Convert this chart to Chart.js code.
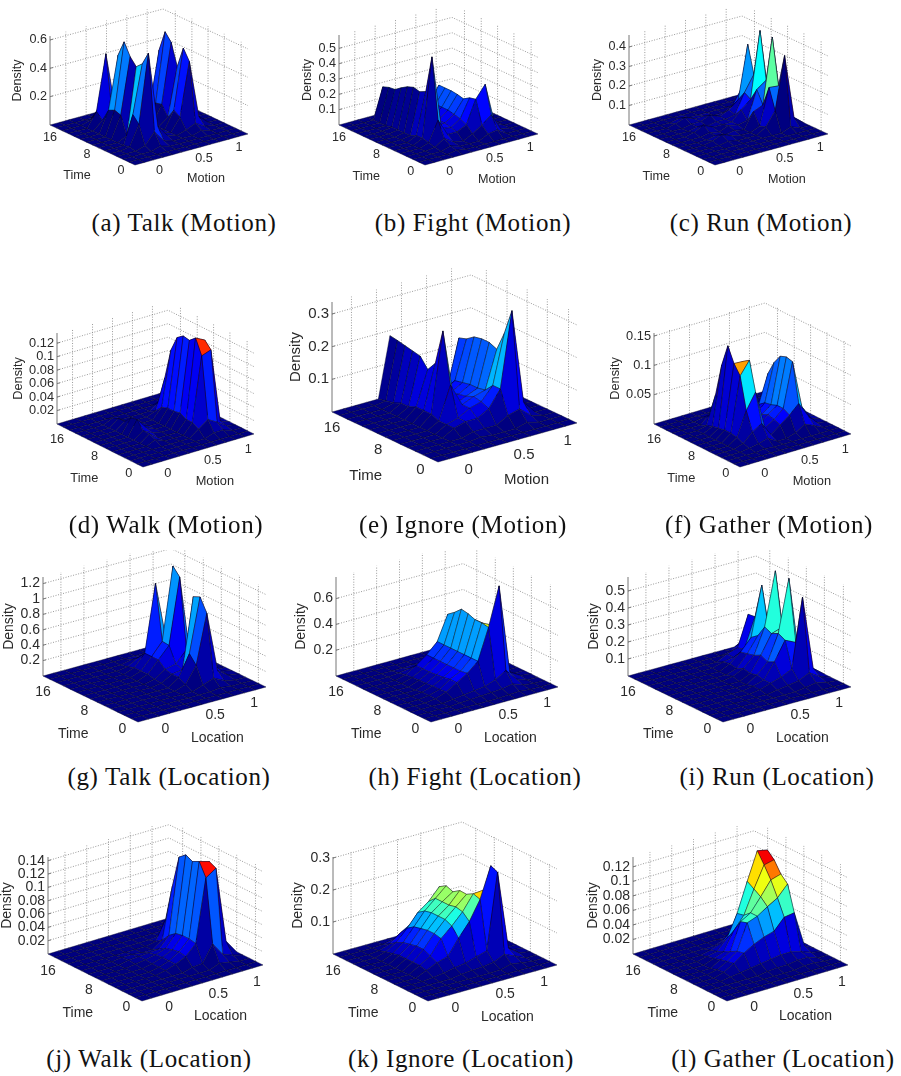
<!DOCTYPE html>
<html>
<head>
<meta charset="utf-8">
<title>Density plots</title>
<script src="https://cdn.jsdelivr.net/npm/chart.js@4/dist/chart.umd.js"></script>
<style>
  html, body { margin: 0; background: #fff; }
  #page { position: relative; width: 901px; height: 1076px; overflow: hidden; }
  canvas { position: absolute; filter: blur(0.35px); }
  .cap { position: absolute; transform: translate(-50%, -50%); white-space: nowrap; color: #111;
         font-family: "Liberation Serif", serif; font-size: 25px; letter-spacing: 0.65px; }
</style>
</head>
<body>
<div id="page"></div>
<script>
// rows are time steps (front to back), columns are motion/location bins (left to right)
const _ = [0,0,0,0,0,0,0,0,0,0,0,0,0];

const talkMotion = [_,_,
  [0,0,0,0,.02,0,0,0,0,0,0,0,0],
  [0,0,0,.02,.1,.02,0,0,0,.02,0,0,0],
  [0,0,.01,.15,.635,.1,.02,0,.02,.05,.01,0,0],
  [0,0,0,.2,.54,.12,.02,0,.09,.465,.06,0,0],
  [0,0,0,.03,.5,.1,.02,0,.12,.54,.08,0,0],
  [0,0,0,.155,.55,.1,0,0,.05,.39,.05,0,0],
  [0,0,0,.17,.635,.12,0,0,.12,.54,.08,0,0],
  [0,0,0,.15,.52,.1,0,0,.11,.595,.07,0,0],
  [0,0,0,.06,.1,.03,0,0,.06,.445,.05,0,0],
  [0,0,0,.1,.49,.08,0,0,.02,.06,0,0,0],
  [0,0,0,.02,.1,.02,0,0,0,0,0,0,0],
  _,_];

const fightMotion = [_,
  [0,0,0,0,.01,0,0,0,0,0,0,0,0],
  [0,0,0,0,.02,0,0,0,.03,.04,0,0,0],
  [0,0,0,.01,.05,.01,0,.03,.07,.12,.01,0,0],
  [0,0,0,.02,.15,.04,.04,.07,.22,.3,.03,0,0],
  [0,0,0,.03,.545,.06,.05,.09,.21,.08,.01,0,0],
  [0,0,0,.03,.3,.05,.06,.1,.185,.03,0,0,0],
  [0,0,0,.01,.28,.04,.06,.11,.195,.02,0,0,0],
  [0,0,0,.01,.29,.03,.06,.11,.2,.02,0,0,0],
  [0,0,0,.01,.275,.03,.05,.11,.2,.02,0,0,0],
  [0,0,0,.01,.25,.02,.05,.1,.2,.01,0,0,0],
  [0,0,0,0,.22,.01,.03,.06,.08,.01,0,0,0],
  [0,0,0,0,.215,.01,0,0,0,0,0,0,0],
  [0,0,0,0,.2,.01,0,0,0,0,0,0,0],
  _];

const runMotion = [_,_,_,
  [0,0,0,0,0,0,0,0,0,0,.02,0,0],
  [0,0,0,0,.01,0,0,0,.03,.1,.37,.04,0],
  [0,0,0,.01,.03,.01,0,0,.02,.205,.2,.02,0],
  [0,0,0,0,.01,0,.01,0,.08,.1,.436,.05,0],
  [0,0,0,0,.01,0,.02,.01,.02,.165,.2,.02,0],
  [0,0,0,.01,.035,.01,.01,.01,.06,.1,.44,.05,0],
  [0,0,0,0,.01,0,.01,.01,.02,.12,.2,.01,0],
  [0,0,0,0,.01,.01,.03,.01,.03,.07,.34,.03,0],
  [0,0,0,.01,.03,.01,.01,0,0,.02,.1,0,0],
  [0,0,0,0,.01,0,0,0,0,0,0,0,0],
  _,_];

const walkMotion = [_,_,
  [0,0,0,0,0,0,0,0,0,.005,.005,0,0],
  [0,0,0,0,0,0,0,0,.01,.02,.012,.003,0],
  [0,0,0,0,.006,0,0,0,.015,.11,.115,.005,0],
  [0,0,0,0,.01,0,0,0,.015,.132,.125,.005,0],
  [0,0,0,0,.01,.003,0,0,.02,.124,.105,.005,0],
  [0,0,0,0,.022,.006,0,0,.018,.126,.05,0,0],
  [0,0,0,0,.02,.004,0,0,.018,.119,.03,0,0],
  [0,0,0,0,.01,0,0,0,.015,.096,.02,0,0],
  [0,0,0,0,.01,0,0,0,.005,.05,.01,0,0],
  [0,0,0,0,.006,0,0,0,0,.01,0,0,0],
  _,_,_];

const ignoreMotion = [_,_,
  [0,0,0,0,0,.005,0,0,0,.01,0,0,0],
  [0,0,0,0,0,.01,.01,.01,.03,.04,.01,0,0],
  [0,0,0,0,.02,.03,.03,.05,.1,.33,.04,0,0],
  [0,0,0,0,.02,.03,.05,.06,.1,.25,.04,0,0],
  [0,0,0,0,.02,.12,.05,.065,.075,.19,.03,0,0],
  [0,0,0,0,.03,.275,.04,.055,.07,.2,.03,0,0],
  [0,0,0,0,.03,.165,.03,.05,.07,.2,.02,0,0],
  [0,0,0,0,.03,.135,.025,.045,.065,.195,.02,0,0],
  [0,0,0,0,.02,.165,.02,.04,.06,.178,.01,0,0],
  [0,0,0,0,.02,.17,.015,.02,.03,.17,.005,0,0],
  [0,0,0,0,.01,.175,.01,0,0,.05,0,0,0],
  [0,0,0,0,.005,.18,.01,0,0,0,0,0,0],
  [0,0,0,0,0,.184,.01,0,0,0,0,0,0]];

const gatherMotion = [_,_,
  [0,0,0,0,.002,0,0,0,0,0,0,0,0],
  [0,0,0,.002,.005,.01,0,0,.005,.015,.008,0,0],
  [0,0,0,.005,.02,.03,.006,.018,.03,.045,.02,.003,0],
  [0,0,0,.01,.051,.078,.012,.022,.036,.111,.03,.005,0],
  [0,0,0,.012,.105,.127,.012,.025,.036,.114,.05,.005,0],
  [0,0,0,.012,.121,.12,.012,.02,.032,.11,.05,0,0],
  [0,0,0,.01,.146,.08,.008,.015,.03,.094,.04,0,0],
  [0,0,0,.008,.108,.04,.005,.008,.022,.07,.02,0,0],
  [0,0,0,.004,.052,.01,0,0,.005,.02,0,0,0],
  [0,0,0,0,.013,0,0,0,0,0,0,0,0],
  [0,0,0,0,.003,0,0,0,0,0,0,0,0],
  _,_];

const talkLocation = [_,_,
  [0,0,0,0,0,0,0,0,0,.02,0,0,0],
  [0,0,0,0,0,0,0,0,.05,.1,.03,0,0],
  [0,0,0,0,0,0,0,.05,.26,.9,.12,.02,0],
  [0,0,0,0,0,0,0,.1,.37,1.07,.2,.03,0],
  [0,0,0,0,0,0,.02,.1,.12,1.03,.15,0,0],
  [0,0,0,0,0,0,.03,.12,.15,.3,.05,0,0],
  [0,0,0,0,0,0,.05,.2,.35,1.2,.1,0,0],
  [0,0,0,0,0,0,.05,.2,.36,1.3,.12,0,0],
  [0,0,0,0,0,0,.05,.2,1.07,.3,.04,0,0],
  [0,0,0,0,0,0,.02,.1,.15,.03,0,0,0],
  [0,0,0,0,0,0,0,.03,.03,0,0,0,0],
  _,_];

const fightLocation = [_,
  [0,0,0,0,0,0,0,0,.005,.01,0,0,0],
  [0,0,0,0,.005,.01,.015,.02,.025,.04,.01,0,0],
  [0,0,0,0,.01,.02,.03,.04,.07,.12,.03,0,0],
  [0,0,0,.01,.04,.09,.14,.21,.45,.75,.06,.01,0],
  [0,0,0,.01,.035,.09,.13,.21,.46,.42,.04,0,0],
  [0,0,0,.01,.035,.08,.13,.21,.46,.4,.03,0,0],
  [0,0,0,0,.03,.075,.13,.21,.48,.25,.02,0,0],
  [0,0,0,0,.03,.07,.13,.21,.49,.15,0,0,0],
  [0,0,0,0,.025,.07,.13,.21,.44,.1,0,0,0],
  [0,0,0,0,.02,.07,.13,.21,.4,.06,0,0,0],
  [0,0,0,0,.01,.02,.03,.03,.05,.01,0,0,0],
  [0,0,0,0,0,0,.005,0,.01,0,0,0,0],
  _,_];

const runLocation = [_,_,
  [0,0,0,0,0,0,0,0,0,.01,.02,.005,0],
  [0,0,0,0,0,0,0,.01,.02,.03,.06,.02,0],
  [0,0,0,0,0,0,.01,.03,.05,.08,.486,.05,0],
  [0,0,0,0,0,0,.01,.03,.12,.23,.2,.03,0],
  [0,0,0,0,0,0,0,.04,.1,.25,.557,.05,0],
  [0,0,0,0,0,0,0,.03,.12,.23,.25,.03,0],
  [0,0,0,0,0,0,.01,.04,.1,.25,.563,.04,0],
  [0,0,0,0,0,0,0,.02,.09,.18,.2,.02,0],
  [0,0,0,0,0,0,0,.03,.08,.15,.44,.03,0],
  [0,0,0,0,0,0,0,.02,.03,.06,.235,.02,0],
  [0,0,0,0,0,0,0,0,.03,.05,.23,.02,0],
  [0,0,0,0,0,0,0,0,0,.01,.05,0,0],
  _];

const walkLocation = [_,_,
  [0,0,0,0,0,0,0,0,0,.006,.003,0,0],
  [0,0,0,0,0,0,0,.004,.005,.03,.01,.004,0],
  [0,0,0,0,0,.003,.008,.015,.03,.124,.134,.02,0],
  [0,0,0,0,0,.003,.008,.017,.032,.1435,.139,.02,0],
  [0,0,0,0,0,.003,.008,.015,.032,.1385,.1,.01,0],
  [0,0,0,0,.002,.004,.007,.012,.03,.1435,.05,0,0],
  [0,0,0,0,.003,.004,.005,.006,.022,.135,.02,0,0],
  [0,0,0,0,.002,.002,0,0,.01,.086,.01,0,0],
  [0,0,0,0,0,0,0,0,.003,.031,0,0,0],
  [0,0,0,0,0,0,0,0,0,.002,0,0,0],
  _,_,_];

const ignoreLocation = [_,_,
  [0,0,0,0,0,0,0,0,.002,.01,.005,0,0],
  [0,0,0,0,0,.005,.008,.01,.015,.03,.015,0,0],
  [0,0,0,.003,.008,.015,.02,.03,.04,.276,.03,.005,0],
  [0,0,0,.015,.03,.04,.0875,.13,.19,.286,.03,.005,0],
  [0,0,0,.02,.04,.085,.115,.15,.197,.2,.02,0,0],
  [0,0,0,.02,.05,.09,.125,.155,.185,.12,.01,0,0],
  [0,0,0,.02,.05,.09,.125,.15,.186,.08,0,0,0],
  [0,0,0,.02,.045,.085,.125,.15,.172,.05,0,0,0],
  [0,0,0,.015,.04,.08,.12,.15,.18,.04,0,0,0],
  [0,0,0,.01,.03,.065,.105,.13,.167,.02,0,0,0],
  [0,0,0,.003,.015,.04,.06,.08,.1,.01,0,0,0],
  [0,0,0,0,.003,.01,.015,.02,.02,0,0,0,0],
  _];

const gatherLocation = [_,_,
  [0,0,0,0,0,0,0,0,0,.002,.002,0,0],
  [0,0,0,0,0,0,.002,.003,.003,.005,.005,0,0],
  [0,0,0,.002,.004,.006,.008,.01,.012,.012,.008,.003,0],
  [0,0,0,.004,.012,.022,.03,.036,.04,.055,.057,.008,0],
  [0,0,0,.003,.01,.02,.055,.06,.069,.077,.092,.01,0],
  [0,0,0,0,.008,.015,.052,.06,.078,.097,.101,.012,0],
  [0,0,0,0,.005,.01,.035,.052,.084,.113,.116,.012,0],
  [0,0,0,0,.003,.006,.02,.05,.09,.128,.125,.01,0],
  [0,0,0,0,0,.003,.008,.02,.03,.05,.05,.005,0],
  [0,0,0,0,0,0,0,.005,.008,.01,.01,0,0],
  _,_,_];

const timeTicks = ['0', '8', '16'];
const axisTicks = ['0', '0.5', '1'];

// wall grid fractions, density ticks and where each panel sits on the page
const leftWallGrid = [.14, .32, .5, .68, .86];
const rightWallGrid = [.145, .34, .53, .72, .92];

const panels = [
  {caption: '(a) Talk (Motion)', values: talkMotion, axis: 'Motion', zTicks: [.2,.4,.6], L:[50,125], F:[135,165], R:[248,134], zScale:141.7, topY:36, font:12.6, densityX:18, box:[0,0,300,205], capX:184, capY:223},
  {caption: '(b) Fight (Motion)', values: fightMotion, axis: 'Motion', zTicks: [.1,.2,.3,.4,.5], L:[339,125], F:[425,165], R:[538,134], zScale:153.3, topY:35, font:12.6, densityX:308, box:[300,0,285,205], capX:473, capY:223},
  {caption: '(c) Run (Motion)', values: runMotion, axis: 'Motion', zTicks: [.1,.2,.3,.4], L:[629,125], F:[715,165], R:[828,134], zScale:195, topY:35, font:12.6, densityX:598, box:[585,0,316,205], capX:761, capY:223},
  {caption: '(d) Walk (Motion)', values: walkMotion, axis: 'Motion', zTicks: [.02,.04,.06,.08,.1,.12], L:[57,424], F:[143,467], R:[254,434], zScale:673.3, topY:333, font:12.8, densityX:18, box:[0,270,285,240], capX:166, capY:525},
  {caption: '(e) Ignore (Motion)', values: ignoreMotion, axis: 'Motion', zTicks: [.1,.2,.3], L:[332,412], F:[438,462], R:[577,423], zScale:326.7, topY:302, font:15, densityX:296, box:[285,265,315,240], capX:463, capY:525},
  {caption: '(f) Gather (Motion)', values: gatherMotion, axis: 'Motion', zTicks: [.05,.1,.15], L:[654,424], F:[740,467], R:[851,434], zScale:586.7, topY:333, font:12.8, densityX:615, box:[600,270,301,240], capX:769, capY:525},
  {caption: '(g) Talk (Location)', values: talkLocation, axis: 'Location', zTicks: [.2,.4,.6,.8,1,1.2], L:[43,676], F:[138,722], R:[266,687], zScale:77, topY:577, font:14, densityX:9, box:[0,550,285,205], capX:169, capY:777},
  {caption: '(h) Fight (Location)', values: fightLocation, axis: 'Location', zTicks: [.2,.4,.6], L:[336,676], F:[431,722], R:[558,687], zScale:129, topY:577, font:14, densityX:301, box:[285,550,295,205], capX:475, capY:777},
  {caption: '(i) Run (Location)', values: runLocation, axis: 'Location', zTicks: [.1,.2,.3,.4,.5], L:[628,676], F:[723,722], R:[851,687], zScale:170, topY:577, font:14, densityX:594, box:[580,550,321,205], capX:777, capY:777},
  {caption: '(j) Walk (Location)', values: walkLocation, axis: 'Location', zTicks: [.02,.04,.06,.08,.1,.12,.14], L:[48,954], F:[142,1001], R:[263,965], zScale:666.7, topY:857, font:14, densityX:7, box:[0,810,285,230], capX:149, capY:1059},
  {caption: '(k) Ignore (Location)', values: ignoreLocation, axis: 'Location', zTicks: [.1,.2,.3], L:[333,954], F:[428,1001], R:[557,965], zScale:320, topY:857, font:14, densityX:298, box:[285,810,295,230], capX:461, capY:1059},
  {caption: '(l) Gather (Location)', values: gatherLocation, axis: 'Location', zTicks: [.02,.04,.06,.08,.1,.12], L:[633,954], F:[727,1001], R:[848,965], zScale:726.7, topY:857, font:14, densityX:593, box:[580,810,321,230], capX:783, capY:1059},
];

// matlab jet colormap
function jet(v) {
  const ramp = c => Math.round(255 * Math.max(0, Math.min(1, 1.5 - Math.abs(4 * v - c))));
  return `rgb(${ramp(3)},${ramp(2)},${ramp(1)})`;
}

function lineSet(points, color, dash, width) {
  return {data: points, showLine: true, fill: false, borderColor: color, borderDash: dash, borderWidth: width, pointRadius: 0};
}

function buildDatasets(p) {
  const rows = p.values.length, cols = p.values[0].length;
  const zMax = Math.max(...p.values.flat());
  const B = [p.L[0] + p.R[0] - p.F[0], p.L[1] + p.R[1] - p.F[1]];
  const project = (i, j) => {
    const a = i / (rows - 1), b = j / (cols - 1), z = p.values[i][j];
    return {
      x: p.F[0] + a * (p.L[0] - p.F[0]) + b * (p.R[0] - p.F[0]),
      y: p.F[1] + a * (p.L[1] - p.F[1]) + b * (p.R[1] - p.F[1]) - z * p.zScale,
    };
  };

  // first dataset is painted last, so the nearest cell goes first
  const sets = [];
  for (let i = 0; i < rows - 1; i++) {
    for (let j = 0; j < cols - 1; j++) {
      const first = project(i, j);
      sets.push({
        data: [first, project(i, j + 1), project(i + 1, j + 1), project(i + 1, j), first],
        showLine: true, fill: 'shape', backgroundColor: jet(p.values[i][j] / zMax),
        borderColor: 'rgba(0,0,30,0.8)', borderWidth: 0.5, pointRadius: 0,
      });
    }
  }

  const grid = '#808080', gridDash = [1, 1.6];
  const wallHeight = p.L[1] - p.topY;
  p.zTicks.forEach(z => {
    const up = z * p.zScale;
    sets.push(lineSet([{x: p.L[0], y: p.L[1] - up}, {x: B[0], y: B[1] - up}, {x: p.R[0], y: p.R[1] - up}], grid, gridDash, 0.8));
    sets.push(lineSet([{x: p.L[0], y: p.L[1] - up}, {x: p.L[0] + 3, y: p.L[1] - up - 0.8}], '#555', [], 0.8));
  });
  leftWallGrid.forEach(f => {
    const x = p.L[0] + f * (B[0] - p.L[0]), y = p.L[1] + f * (B[1] - p.L[1]);
    sets.push(lineSet([{x, y}, {x, y: y - wallHeight}], grid, gridDash, 0.8));
  });
  rightWallGrid.forEach(f => {
    const x = B[0] + f * (p.R[0] - B[0]), y = B[1] + f * (p.R[1] - B[1]);
    sets.push(lineSet([{x, y}, {x, y: y - wallHeight}], grid, gridDash, 0.8));
  });
  sets.push(lineSet([{x: p.L[0], y: p.L[1]}, {x: p.L[0], y: p.topY}], '#777', [], 1));
  return sets;
}

// tick and axis names follow the tilted floor, so they are placed by hand through the scales
const axisText = {
  id: 'axisText',
  afterDraw(chart, args, opts) {
    const p = opts.panel, ctx = chart.ctx, xs = chart.scales.x, ys = chart.scales.y;
    const sc = (p.F[0] - p.L[0]) / 85;
    const put = (text, x, y) => ctx.fillText(text, xs.getPixelForValue(x), ys.getPixelForValue(y));
    ctx.save();
    ctx.fillStyle = '#2a2a2a';
    ctx.font = `${p.font}px "Liberation Sans", Arial, sans-serif`;
    ctx.textBaseline = 'middle';
    ctx.textAlign = 'right';
    p.zTicks.forEach(z => put(String(z), p.L[0] - 3, p.L[1] - z * p.zScale));
    ctx.textAlign = 'center';
    const timeAt = [[-14, 6], [-48, -10], [-85, -27]];
    const axisAt = [[24.5, 6], [69, -6], [104, -17]];
    timeTicks.forEach((t, k) => put(t, p.F[0] + timeAt[k][0] * sc, p.F[1] + timeAt[k][1] * sc));
    axisTicks.forEach((t, k) => put(t, p.F[0] + axisAt[k][0] * sc, p.F[1] + axisAt[k][1] * sc));
    put('Time', p.F[0] - 58 * sc, p.F[1] + 11 * sc);
    put(p.axis, p.F[0] + 71 * sc, p.F[1] + 14 * sc);
    const midY = p.L[1] - (p.L[1] - p.topY) * 0.5;
    ctx.translate(xs.getPixelForValue(p.densityX), ys.getPixelForValue(midY));
    ctx.rotate(-Math.PI / 2);
    ctx.fillText('Density', 0, 0);
    ctx.restore();
  }
};

const page = document.getElementById('page');

panels.forEach(p => {
  const [left, top, width, height] = p.box;
  const canvas = document.createElement('canvas');
  canvas.width = width;
  canvas.height = height;
  canvas.style.left = left + 'px';
  canvas.style.top = top + 'px';
  page.appendChild(canvas);

  new Chart(canvas, {
    type: 'scatter',
    data: {datasets: buildDatasets(p)},
    options: {
      responsive: false,
      animation: false,
      layout: {padding: 0},
      elements: {line: {tension: 0}},
      plugins: {legend: {display: false}, tooltip: {enabled: false}, axisText: {panel: p}},
      scales: {
        x: {type: 'linear', display: false, min: left, max: left + width},
        y: {type: 'linear', display: false, min: top, max: top + height, reverse: true},
      },
    },
    plugins: [axisText],
  });

  const cap = document.createElement('div');
  cap.className = 'cap';
  cap.textContent = p.caption;
  cap.style.left = p.capX + 'px';
  cap.style.top = p.capY + 'px';
  page.appendChild(cap);
});
</script>
</body>
</html>
